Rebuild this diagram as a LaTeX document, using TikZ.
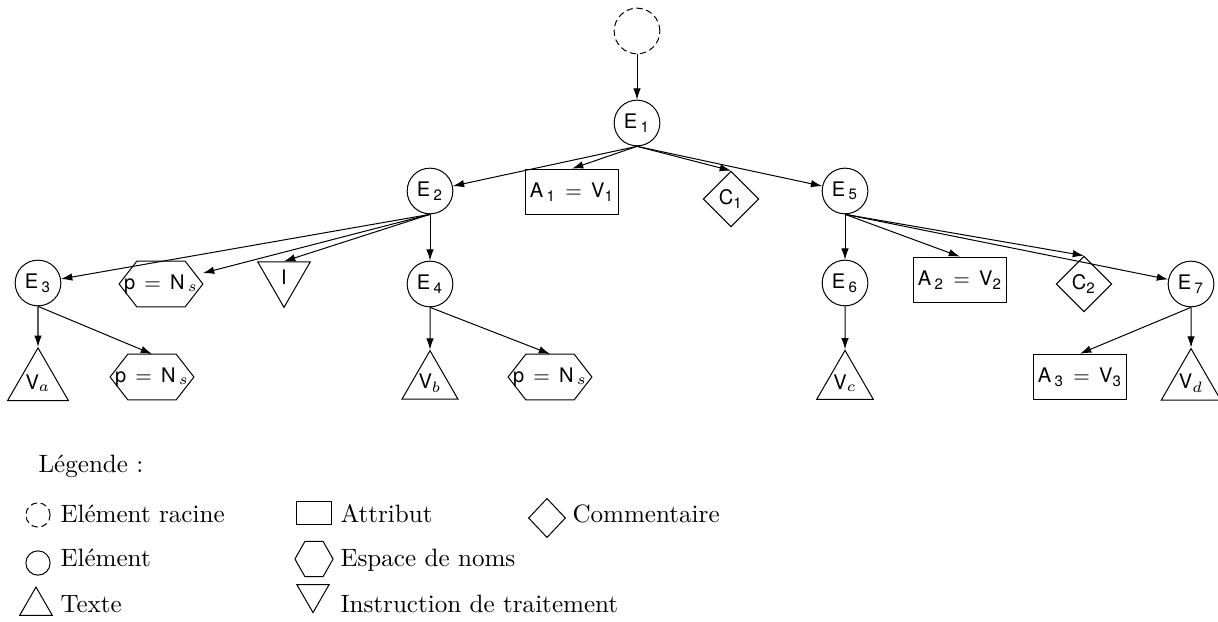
\documentclass[tikz,border=0pt]{standalone}
\usepackage{fontspec}
\usepackage{amsmath}
\newfontfamily\helv{TeX Gyre Heros}
\usetikzlibrary{shapes.geometric,arrows.meta}
\newcommand{\idx}[1]{$_{\text{#1}}$}

\tikzset{
  elem/.style={circle, draw, minimum size=0.64cm, inner sep=0pt, font=\helv\footnotesize},
  attr/.style={rectangle, draw, minimum width=1.29cm, minimum height=0.64cm, inner sep=0pt, font=\helv\footnotesize},
  comm/.style={diamond, draw, minimum size=0.78cm, inner sep=0pt, font=\helv\footnotesize},
  nsbox/.style={rectangle, minimum width=1.16cm, minimum height=0.63cm, inner sep=0pt, font=\helv\footnotesize},
  txt/.style={regular polygon, regular polygon sides=3, draw, minimum size=0.85cm, inner sep=0pt, font=\helv\footnotesize},
  instr/.style={txt, shape border rotate=180},
  rootdash/.style={dash pattern=on 2.5pt off 1.5pt},
  legtext/.style={anchor=base west, inner sep=0pt},
}

\begin{document}
\begin{tikzpicture}[x=0.014cm, y=-0.014cm, >={Latex[length=4.5pt,width=3pt]}]
\useasboundingbox (0,0) rectangle (1218,621);
%\draw [help lines] (0,0) grid (1218,621);
    % tree
    \node[elem, rootdash] (root) at (637,31) {};
    \node[elem] (e1) at (637,123) {E\,\idx{1}};
    \node[elem] (e2) at (430,191) {E\,\idx{2}};
    \node[attr] (a1) at (572,192) {A\,\idx{1} $\,=\,$ V\idx{1}};
    \node[comm] (c1) at (731,199) {C\idx{1}};
    \node[elem] (e5) at (845,191) {E\,\idx{5}};

    \node[elem] (e3) at (38,283) {E\,\idx{3}};
    \node[nsbox] (ns2) at (161,284) {p $\,=\,$ N\,$_s$};
    \node[instr] (pi) at (284,277) {I};
    \node[elem] (e4) at (430,284) {E\,\idx{4}};
    \node[elem] (e6) at (845,283) {E\,\idx{6}};
    \node[attr] (a2) at (960,280) {A\,\idx{2} $\,=\,$ V\idx{2}};
    \node[comm] (c2) at (1084,284) {C\idx{2}};
    \node[elem] (e7) at (1191,284) {E\,\idx{7}};

    \node[txt] (va) at (38,383) {V$_a$};
    \node[nsbox] (ns3) at (152,377) {p $\,=\,$ N\,$_s$};
    \node[txt] (vb) at (430,383) {V$_b$};
    \node[nsbox] (ns4) at (550,377) {p $\,=\,$ N\,$_s$};
    \node[txt] (vc) at (845,383) {V$_c$};
    \node[attr] (a3) at (1080,377) {A\,\idx{3} $\,=\,$ V\idx{3}};
    \node[txt] (vd) at (1191,383) {V$_d$};

    % hexagons for the namespaces
    \foreach \n in {ns2,ns3,ns4}
      \draw (\n.west) -- ([xshift=0.25cm]\n.north west) -- ([xshift=-0.25cm]\n.north east)
        -- (\n.east) -- ([xshift=-0.25cm]\n.south east) -- ([xshift=0.25cm]\n.south west) -- cycle;

    % edges
    \draw[->] (root) -- (e1);
    \draw[->] (e1.south) -- (e2);
    \draw[->] (e1.south) -- (a1.north);
    \draw[->] (e1.south) -- (c1.north);
    \draw[->] (e1.south) -- (e5);
    \draw[->] (e2.south) -- (e3);
    \draw[->] (e2.south) -- (ns2);
    \draw[->] (e2.south) -- (pi.north);
    \draw[->] (e2.south) -- (e4);
    \draw[->] (e3.south) -- (va);
    \draw[->] (e3.south) -- (ns3.north);
    \draw[->] (e4.south) -- (vb);
    \draw[->] (e4.south) -- (ns4.north);
    \draw[->] (e5.south) -- (e6);
    \draw[->] (e5.south) -- (a2.north);
    \draw[->] (e5.south) -- (c2.north);
    \draw[->] (e5.south) -- (e7);
    \draw[->] (e6.south) -- (vc);
    \draw[->] (e7.south) -- (a3.north);
    \draw[->] (e7.south) -- (vd);

    % legend
    \node[legtext] (leg) at (38,472) {Légende :};
    \node[circle, draw, rootdash, minimum size=0.34cm, inner sep=0pt] (lroot) at (38,515) {};
    \node[legtext] (lrootl) at (60,522) {Elément racine};
    \node[circle, draw, minimum size=0.34cm, inner sep=0pt] (lelem) at (38,563) {};
    \node[legtext] (leleml) at (60,566) {Elément};
    \node[regular polygon, regular polygon sides=3, draw, minimum size=0.53cm, inner sep=0pt] (ltxt) at (36,606) {};
    \node[legtext] (ltxtl) at (60,612) {Texte};
    \node[rectangle, draw, minimum width=0.48cm, minimum height=0.31cm, inner sep=0pt] (lattr) at (314,513) {};
    \node[legtext] (lattrl) at (340,522) {Attribut};
    \node[rectangle, minimum width=0.52cm, minimum height=0.48cm, inner sep=0pt] (lns) at (314,559) {};
    \draw (lns.west) -- ([xshift=0.14cm]lns.north west) -- ([xshift=-0.14cm]lns.north east)
      -- (lns.east) -- ([xshift=-0.14cm]lns.south east) -- ([xshift=0.14cm]lns.south west) -- cycle;
    \node[legtext] (lnsl) at (340,566) {Espace de noms};
    \node[regular polygon, regular polygon sides=3, shape border rotate=180, draw, minimum size=0.52cm, inner sep=0pt] (lpi) at (313,594) {};
    \node[legtext] (lpil) at (340,612) {Instruction de traitement};
    \node[diamond, draw, minimum width=0.52cm, minimum height=0.55cm, inner sep=0pt] (lcomm) at (547,518) {};
    \node[legtext] (lcomml) at (572,522) {Commentaire};
\end{tikzpicture}
\end{document}
